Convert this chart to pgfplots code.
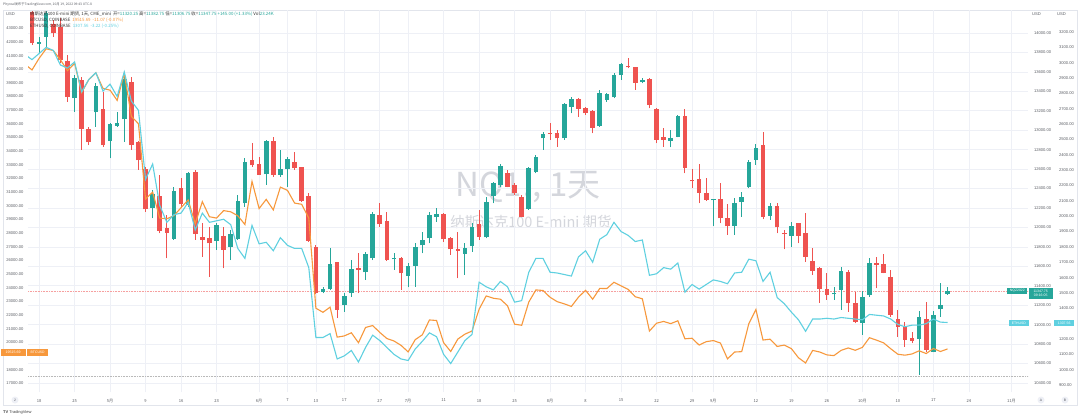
\documentclass[border=0pt]{standalone}
\usepackage{pgfplots}
\usepackage{pgfplotstable}
\pgfplotsset{compat=1.18}
\usepackage{fontspec}
\setmainfont{Liberation Sans}
\newfontfamily\cjk{Noto Sans CJK SC}
\definecolor{tvup}{RGB}{38,166,154}
\definecolor{tvdn}{RGB}{239,83,80}
\definecolor{btc}{RGB}{247,152,60}
\definecolor{eth}{RGB}{95,208,224}
\definecolor{gridc}{RGB}{238,240,246}
\definecolor{txt}{RGB}{90,93,100}
\definecolor{wm}{RGB}{212,214,220}
\definecolor{frame}{RGB}{226,229,236}

\pgfplotstableread{
i o h l c
1 13891 13963 13791 13904
2 13963 14230 13860 14203
6 13328 13568 13191 13534
9 13184 13483 13037 13455
11 12890 13071 12711 13064
12 13047 13191 13037 13078
13 13112 13586 12883 13527
17 12200 12386 12094 12348
20 11885 12420 11871 12375
22 12231 12574 12214 12557
26 11864 12043 11768 12026
28 11803 11974 11665 11929
29 11878 12334 11871 12276
30 12248 12711 12214 12670
33 12547 12900 12437 12890
35 12543 12797 12523 12598
36 12602 12728 12420 12704
41 11340 11391 11323 11364
42 11364 11786 11357 11624
44 11203 11323 11134 11295
45 11323 11665 11288 11570
47 11539 11751 11460 11727
48 11683 12163 11665 12139
51 11672 11741 11563 11683
53 11504 11631 11384 11604
54 11604 11837 11391 11803
55 11816 11957 11734 11871
56 11888 12163 11837 12132
57 12111 12197 12060 12142
61 11727 11837 11511 11792
62 11809 12043 11751 12001
64 11899 12317 11888 12262
65 12324 12471 12248 12454
66 12437 12653 12420 12632
70 12190 12626 12180 12612
71 12574 12745 12557 12728
72 12917 12986 12797 12962
75 12917 13277 12900 13267
76 13243 13339 13174 13321
80 13044 13414 13037 13387
81 13311 13387 13294 13370
82 13339 13586 13328 13568
83 13568 13688 13517 13682
86 13496 13534 13483 13514
90 12890 13003 12824 12924
91 12934 13157 12927 13150
96 12279 12295 12015 12289
99 12015 12300 11923 12255
100 12266 12368 12111 12314
101 12413 12694 12403 12670
102 12694 12855 12643 12818
104 12122 12248 12077 12221
107 11916 12053 11796 12019
113 11312 11391 11254 11330
114 11357 11597 11151 11552
117 11021 11350 10894 11282
118 11306 11683 11288 11631
125 10853 11141 10483 11076
127 10723 11141 10715 11100
128 11158 11425 11083 11203
129 11320.25 11382.75 11306.75 11347.75
}\upT

\pgfplotstableread{
i o h l c
0 14216 14230 13877 13894
3 14093 14134 13963 13997
4 14065 14151 13688 13723
5 13716 13774 13294 13346
7 13517 13551 12797 13013
8 13010 13037 12848 12876
10 13215 13397 12831 12848
14 13493 13551 12797 12848
15 12876 12893 12591 12691
16 12598 12626 12163 12187
18 12320 12540 11940 11964
19 11998 12128 11683 11943
21 12403 12506 12214 12238
23 12567 12591 11871 11933
24 11906 12043 11700 11871
25 11892 12008 11494 11837
27 11909 12008 11580 11768
31 12698 12866 12626 12639
32 12653 12728 12540 12543
34 12890 12934 12523 12543
37 12677 12780 12591 12608
38 12619 12626 12266 12276
39 12327 12351 11854 11864
40 11803 11820 11316 11323
43 11642 11648 11066 11151
46 11580 11734 11323 11563
49 12128 12255 12008 12032
50 12070 12163 11659 11669
52 11683 11700 11357 11528
58 12142 12146 11854 11878
59 11895 11906 11717 11775
60 11775 11957 11477 11761
63 12032 12180 11871 11902
67 12557 12591 12413 12420
68 12437 12454 12334 12351
69 12310 12334 12104 12111
73 12975 13071 12900 12962
74 12968 13003 12831 12917
77 13325 13328 13140 13222
78 13226 13243 13157 13174
79 13202 13208 12968 13023
84 13664 13740 13637 13647
85 13647 13654 13414 13490
87 13531 13534 13226 13260
88 13219 13226 12866 12900
89 12927 13020 12831 12900
92 13143 13215 12557 12615
93 12488 12598 12403 12475
94 12499 12653 12248 12355
95 12358 12506 12276 12283
97 12289 12461 12043 12094
98 12101 12238 11923 12012
103 12848 12986 12084 12111
105 12224 12255 11940 12001
106 11947 11974 11775 11930
108 12043 12050 11837 11916
109 11940 12146 11648 11700
110 11655 11786 11511 11556
111 11580 11597 11227 11371
112 11364 11528 11254 11306
115 11539 11563 11134 11220
116 11220 11340 11014 11028
119 11631 11700 11374 11617
120 11621 11724 11528 11535
121 11487 11563 11083 11100
122 11062 11151 10877 10980
123 10980 11031 10774 10843
124 10867 10928 10808 10836
126 11055 11237 10723 10740
}\dnT

\pgfplotstableread{
i b
-0.6 40200
0 39950
1 40800
2 41500
3 41370
4 40700
5 39900
6 40430
7 38300
8 39240
9 39740
10 38600
11 38470
12 37720
13 39690
14 36550
15 36010
16 30500
17 31000
18 29100
19 29050
20 29280
21 29860
22 30430
23 28700
24 30300
25 29200
26 29100
27 29650
28 29560
29 29270
30 28630
31 31790
32 29800
33 30470
34 29700
35 31370
36 31130
37 30200
38 30110
39 29100
40 22500
41 22200
42 22580
43 20380
44 20470
45 20700
46 19970
47 21090
48 21230
49 20730
50 20280
51 20100
52 19780
53 19300
54 20200
55 20550
56 21640
57 21600
58 19970
59 19330
60 20240
61 20600
62 20830
63 22430
64 23400
65 23230
66 23160
67 22680
68 21330
69 21250
70 22950
71 23840
72 23800
73 23300
74 22980
75 22820
76 22630
77 23310
78 23810
79 23160
80 23950
81 23940
82 24400
83 24140
84 23880
85 23340
86 23190
87 20830
88 21400
89 21530
90 21370
91 21580
92 20260
93 20300
94 19800
95 20050
96 20130
97 19950
98 18790
99 19290
100 19320
101 21360
102 22410
103 20170
104 20230
105 19700
106 19800
107 19540
108 18870
109 18490
110 19410
111 19290
112 19080
113 19030
114 19410
115 19590
116 19420
117 19630
118 20340
119 20160
120 19960
121 19530
122 19130
123 19060
124 19150
125 19380
126 19180
127 19550
128 19330
129 19515.69
}\btcT

\pgfplotstableread{
i e
-0.6 3040
0 3020
1 3060
2 3100
3 3080
4 2985
5 2965
6 3005
7 2810
8 2890
9 2935
10 2815
11 2860
12 2780
13 2940
14 2750
15 2690
16 2240
17 2340
18 2070
19 1960
20 2010
21 2020
22 2090
23 1910
24 2020
25 1960
26 1970
27 1980
28 1945
29 1790
30 1725
31 1940
32 1820
33 1830
34 1775
35 1860
36 1810
37 1790
38 1790
39 1665
40 1210
41 1210
42 1235
43 1070
44 1090
45 1125
46 1050
47 1145
48 1225
49 1190
50 1145
51 1100
52 1070
53 1060
54 1135
55 1185
56 1240
57 1215
58 1100
59 1040
60 1115
61 1190
62 1230
63 1570
64 1540
65 1520
66 1575
67 1540
68 1440
69 1450
70 1635
71 1725
72 1725
73 1635
74 1630
75 1620
76 1610
77 1735
78 1775
79 1700
80 1850
81 1880
82 1960
83 1900
84 1875
85 1835
86 1845
87 1615
88 1625
89 1665
90 1655
91 1695
92 1505
93 1555
94 1525
95 1555
96 1585
97 1575
98 1560
99 1630
100 1635
101 1720
102 1710
103 1575
104 1635
105 1470
106 1430
107 1375
108 1325
109 1250
110 1330
111 1330
112 1335
113 1330
114 1340
115 1335
116 1330
117 1325
118 1360
119 1355
120 1350
121 1330
122 1295
123 1280
124 1290
125 1290
126 1300
127 1330
128 1310
129 1307.56
}\ethT

\pgfplotsset{
  tvaxis/.style={
    at={(28pt,-392pt)}, anchor=south west,
    scale only axis, width=1000pt, height=382pt,
    xmin=-0.564, xmax=140.34,
    axis line style={draw=none},
    major tick length=0pt,
    scaled ticks=false,
    ticklabel style={font=\fontsize{4.1}{5}\selectfont, text=txt},
    /pgf/number format/fixed,
    /pgf/number format/fixed zerofill,
    /pgf/number format/precision=2,
    /pgf/number format/1000 sep={},
    /pgf/number format/assume math mode=true,
  },
  wick/.style={only marks, mark=*, mark size=0pt,
    mark options={draw opacity=0, fill opacity=0},
    error bars/.cd, y dir=plus, y explicit, error mark=none,
    error bar style={line width=0.9pt, color=#1, draw opacity=1}},
  body/.style={only marks, mark=*, mark size=0pt,
    mark options={draw opacity=0, fill opacity=0},
    error bars/.cd, y dir=plus, y explicit, error mark=none,
    error bar style={line width=4.6pt, color=#1, draw opacity=1}},
}

\begin{document}
\begin{tikzpicture}
\useasboundingbox (0pt,0pt) rectangle (1080pt,-418pt);
\fill[white] (0pt,0pt) rectangle (1080pt,-418pt);
\draw[frame, line width=0.5pt] (3pt,-10pt) rectangle (1077pt,-405pt);

% watermark
\node[font=\cjk\fontsize{33}{36}\selectfont, text=wm] at (528pt,-187pt) {NQ1!, 1天};
\node[font=\cjk\fontsize{14.5}{16}\selectfont, text=wm] at (531pt,-222pt) {纳斯达克100 E-mini 期货};

% NQ main axis with candles
\begin{axis}[tvaxis,
  ymin=10307.3, ymax=14236.6,
  ytick={10400,10600,...,14000},
  yticklabel pos=right,
  yticklabel style={xshift=2.5pt},
  xtick={1,6,11,16,21,26,32,36,40,44,49,53,58,63,68,73,78,83,88,93,96,102,107,112,117,122,127,132,138},
  xticklabels={18,25,5月,9,16,23,6月,7,13,17,27,7月,11,18,25,8月,8,15,22,29,9月,12,19,26,10月,10,17,24,11月},
  xticklabel style={font=\cjk\fontsize{4.1}{5}\selectfont, text=txt, yshift=-3.5pt},
  grid=major, major grid style={gridc, line width=0.6pt},
]
\draw[gray!55, densely dotted, line width=0.6pt] (axis cs:-1,10472) -- (axis cs:141,10472);
\draw[tvdn!55, densely dotted, line width=0.6pt] (axis cs:-1,11347.75) -- (axis cs:141,11347.75);
\addplot[wick=tvup] table[x=i, y=l, y error plus expr=\thisrow{h}-\thisrow{l}] {\upT};
\addplot[wick=tvdn] table[x=i, y=l, y error plus expr=\thisrow{h}-\thisrow{l}] {\dnT};
\addplot[body=tvup] table[x=i, y=o, y error plus expr=\thisrow{c}-\thisrow{o}] {\upT};
\addplot[body=tvdn] table[x=i, y=c, y error plus expr=\thisrow{o}-\thisrow{c}] {\dnT};
\end{axis}

% BTC axis (left)
\begin{axis}[tvaxis,
  ymin=16363, ymax=44340,
  ytick={17000,18000,20000,21000,22000,23000,24000,25000,26000,27000,28000,29000,30000,31000,32000,33000,34000,35000,36000,37000,38000,39000,40000,41000,42000,43000},
  yticklabel pos=left,
  yticklabel style={xshift=-1pt},
  xtick=\empty,
]
\addplot[btc, line width=1.1pt, mark=none] table[x=i, y=b] {\btcT};
\end{axis}

% ETH axis (far right)
\begin{axis}[tvaxis,
  ymin=854.7, ymax=3343.3,
  ytick={900,1000,1100,1200,1400,1500,1600,1700,1800,1900,2000,2100,2200,2300,2400,2500,2600,2700,2800,2900,3000,3100,3200},
  yticklabel pos=right,
  yticklabel style={xshift=27.5pt},
  xtick=\empty,
]
\addplot[eth, line width=1.1pt, mark=none] table[x=i, y=e] {\ethT};
\end{axis}

% header and legend
\node[anchor=west, inner sep=0, font=\cjk\fontsize{3.3}{4}\selectfont, text=txt] at (3pt,-5pt) {Phyreal发布于TradingView.com, 10月 19, 2022 09:43 UTC-8};
\node[anchor=west, inner sep=0, font=\fontsize{4.1}{5}\selectfont, text=txt] at (6pt,-14pt) {USD};
\node[anchor=west, inner sep=0, font=\fontsize{4.1}{5}\selectfont, text=txt] at (1032pt,-14pt) {USD};
\node[anchor=west, inner sep=0, font=\fontsize{4.1}{5}\selectfont, text=txt] at (1057pt,-14pt) {USD};
\node[anchor=west, inner sep=0, font=\cjk\fontsize{4.4}{5}\selectfont, text=black!80] at (30pt,-14pt)
  {纳斯达克100 E-mini 期货, 1天, CME\_mini\ \ 开=\textcolor{tvup}{11320.25}\ 高=\textcolor{tvup}{11382.75}\ 低=\textcolor{tvup}{11306.75}\ 收=\textcolor{tvup}{11347.75}\ \textcolor{tvup}{+145.00 (+1.33\%)}\ Vol\textcolor{tvup}{23.24K}};
\node[anchor=west, inner sep=0, font=\cjk\fontsize{4.4}{5}\selectfont, text=black!80] at (30pt,-20.5pt)
  {BTCUSD, COINBASE\ \ \textcolor{btc}{19515.69\ \ -11.07 (-0.07\%)}};
\node[anchor=west, inner sep=0, font=\cjk\fontsize{4.4}{5}\selectfont, text=black!80] at (30pt,-26.5pt)
  {ETHUSD, COINBASE\ \ \textcolor{eth}{1307.56\ \ -3.22 (-0.25\%)}};

% price tags
\node[anchor=west, fill=tvup, text=white, inner sep=0pt, minimum width=24pt, minimum height=11pt, align=center, font=\fontsize{3.5}{4.2}\selectfont] at (1028.5pt,-293pt) {11347.75\\09:16:05};
\node[anchor=east, fill=tvup, text=white, inner sep=0pt, minimum width=20pt, minimum height=6pt, font=\fontsize{3.4}{4}\selectfont] at (1027.5pt,-291pt) {NQZ2022};
\node[anchor=west, fill=eth, text=white, inner sep=0pt, minimum width=20pt, minimum height=6pt, font=\fontsize{3.5}{4}\selectfont] at (1054pt,-323pt) {1307.56};
\node[anchor=east, fill=eth, text=white, inner sep=0pt, minimum width=20pt, minimum height=6pt, font=\fontsize{3.4}{4}\selectfont] at (1029pt,-323pt) {ETHUSD};
\node[anchor=west, fill=btc, text=white, inner sep=0pt, minimum width=25pt, minimum height=7pt, font=\fontsize{3.6}{4}\selectfont] at (0.5pt,-352pt) {19515.69};
\node[anchor=west, fill=btc, text=white, inner sep=0pt, minimum width=21pt, minimum height=7pt, font=\fontsize{3.4}{4}\selectfont] at (27pt,-352pt) {BTCUSD};

% bottom badges and logo
\fill[gridc] (15pt,-400pt) circle (3.5pt);
\node[font=\fontsize{3.4}{4}\selectfont, text=txt] at (15pt,-400pt) {2};
\fill[gridc] (1041pt,-400pt) circle (3.5pt);
\node[font=\fontsize{3.4}{4}\selectfont, text=txt] at (1041pt,-400pt) {A};
\fill[gridc] (1065pt,-400pt) circle (3.5pt);
\node[font=\fontsize{3.4}{4}\selectfont, text=txt] at (1065pt,-400pt) {B};
\node[anchor=west, inner sep=0, font=\fontsize{4}{5}\selectfont, text=black!75] at (3pt,-412pt) {\textbf{TV}\ TradingView};
\end{tikzpicture}
\end{document}
